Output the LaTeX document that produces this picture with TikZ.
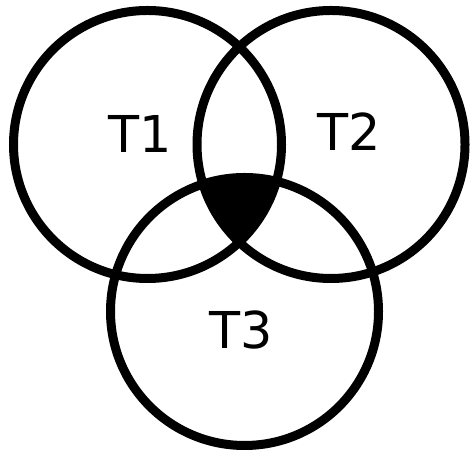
\documentclass[tikz,border=0pt]{standalone}
\usepackage{fontspec}
\setmainfont{DejaVu Sans}
\usepackage{tikz}
\tikzstyle{ring} = [line width=9bp, draw=black]
\tikzstyle{setname} = [font=\fontsize{51}{60}\selectfont, inner sep=0pt]

\begin{document}
\begin{tikzpicture}[x=1bp, y=1bp]
        \useasboundingbox (0,0) rectangle (470,450);
        \coordinate (c1) at (147.5,305.5);
        \coordinate (c2) at (331,305.5);
        \coordinate (c3) at (244.5,138.5);

        % common part of all three sets
        \begin{scope}
            \clip (c1) circle (134);
            \clip (c2) circle (134);
            \fill [black] (c3) circle (134);
        \end{scope}

        \draw [ring] (c1) circle (134);
        \draw [ring] (c2) circle (134);
        \draw [ring] (c3) circle (134);

        \node (t1) [setname] at (140,316.5) {T1};
        \node (t2) [setname] at (349,318.5) {T2};
        \node (t3) [setname] at (241,120) {T3};
    \end{tikzpicture}
\end{document}
